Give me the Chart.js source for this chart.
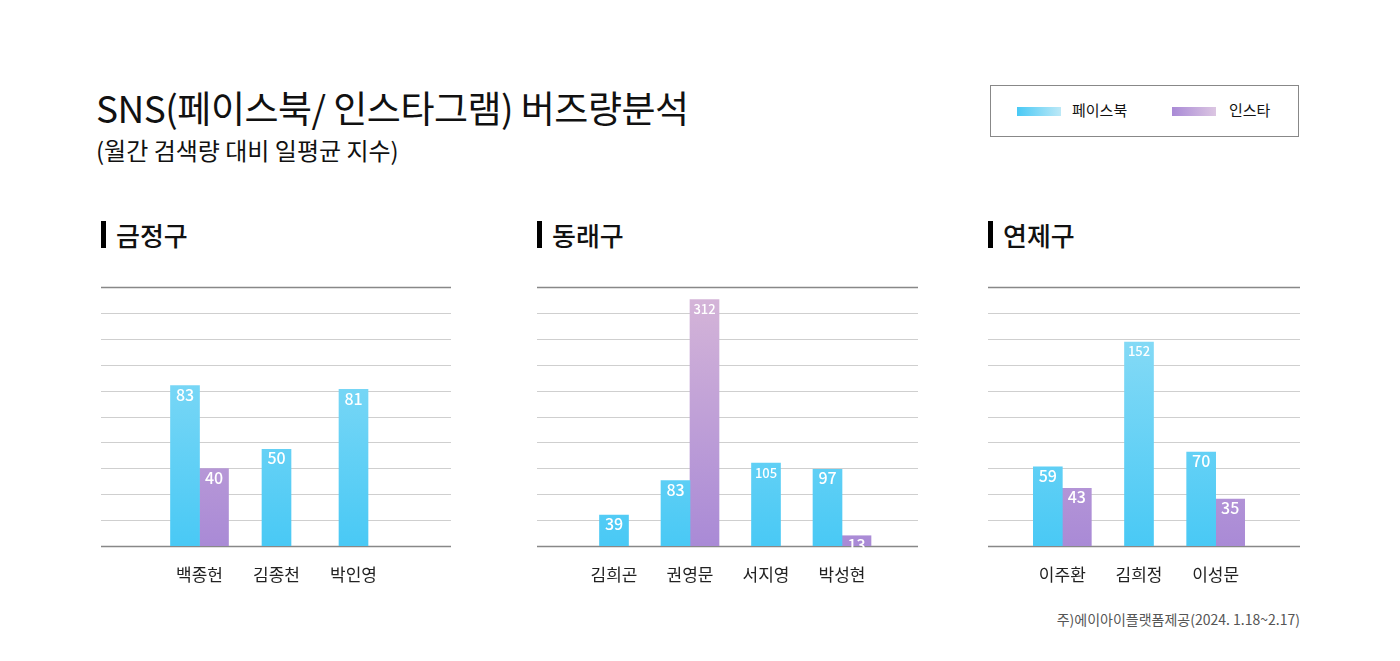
<!DOCTYPE html>
<html><head><meta charset="utf-8">
<script src="https://cdn.jsdelivr.net/npm/chart.js@4/dist/chart.umd.min.js"></script>
<style>
body{margin:0;width:1400px;height:661px;background:#fff;font-family:"Noto Sans CJK KR","Noto Sans",sans-serif;position:relative;overflow:hidden;color:#111}
.abs{position:absolute;white-space:nowrap}
.h{font-size:26px;font-weight:500;display:flex;align-items:center}
.h:before{content:"";display:inline-block;width:5px;height:27px;background:#000;margin-right:10px}
canvas{position:absolute}
</style></head><body>
<div class="abs" style="left:96px;top:80px;font-size:37px;font-weight:400;letter-spacing:-0.5px">SNS(페이스북/ 인스타그램) 버즈량분석</div>
<div class="abs" style="left:96px;top:132px;font-size:24px">(월간 검색량 대비 일평균 지수)</div>
<div class="abs" style="left:990px;top:85px;width:309px;height:52px;border:1px solid #888;box-sizing:border-box"></div>
<div class="abs" style="left:1017px;top:107px;width:44px;height:9px;background:linear-gradient(90deg,#49c9f5,#bde9f7)"></div>
<div class="abs" style="left:1072px;top:99px;font-size:15px">페이스북</div>
<div class="abs" style="left:1172px;top:107px;width:44px;height:9px;background:linear-gradient(90deg,#a98ad6,#dcc6e2)"></div>
<div class="abs" style="left:1229px;top:99px;font-size:15px">인스타</div>
<div class="abs h" style="left:101px;top:216px">금정구</div>
<div class="abs h" style="left:537px;top:216px">동래구</div>
<div class="abs h" style="left:988px;top:216px">연제구</div>
<div class="abs" style="right:100px;top:609px;font-size:14px;color:#555">주)에이아이플랫폼제공(2024. 1.18~2.17)</div>
<canvas id="c1" style="left:101px;top:282px" width="350" height="320"></canvas>
<canvas id="c2" style="left:537px;top:282px" width="381" height="320"></canvas>
<canvas id="c3" style="left:988px;top:282px" width="312" height="320"></canvas>
<script>
const names1=['백종헌','김종천','박인영'];
const fb1=[83,50,81];
const ig1=[40,null,null];
const names2=['김희곤','권영문','서지영','박성현'];
const fb2=[39,83,105,97];
const ig2=[null,312,null,13];
const names3=['이주환','김희정','이성문'];
const fb3=[59,152,70];
const ig3=[43,null,35];

function grad(ctx,area,c1,c2){
  if(!area)return c1;
  const g=ctx.createLinearGradient(0,area.bottom,0,area.top);
  g.addColorStop(0,c1);g.addColorStop(1,c2);return g;
}
const deco={id:'deco',
  beforeDatasetsDraw(ch){
    const c=ch.ctx,y=ch.scales.y,M=ch.options.scales.y.max,W=ch.width;
    c.save();
    for(let i=0;i<=10;i++){
      const py=Math.round(y.getPixelForValue(M*i/10))+0.5;
      c.strokeStyle=(i==0||i==10)?'#888':'#cfcfcf';
      c.lineWidth=(i==0||i==10)?1.5:1;
      c.beginPath();c.moveTo(0,py);c.lineTo(W,py);c.stroke();
    }
    c.restore();
  },
  afterDatasetsDraw(ch){
    const c=ch.ctx;c.save();
    c.textAlign='center';c.textBaseline='top';c.fillStyle='#fff';
    ch.data.datasets.forEach((ds,di)=>{
      ch.getDatasetMeta(di).data.forEach((el,i)=>{
        const v=ds.data[i];if(v==null)return;
        c.font=(v>=100?'500 13px':'500 16px')+' "Noto Sans CJK KR"';
        c.fillText(String(v),el.x,el.y+(v>=100?3:1));
      });
    });
    c.fillStyle='#222';c.font='17px "Noto Sans CJK KR"';
    const x=ch.scales.x;
    ch.data.labels.forEach((l,i)=>c.fillText(l,x.getPixelForValue(i),ch.chartArea.bottom+20));
    c.restore();
  }};
function make(id,labels,fb,ig,max,pl,pr){
  new Chart(document.getElementById(id),{type:'bar',
    data:{labels,datasets:[
      {data:fb,backgroundColor:c=>grad(c.chart.ctx,c.chart.chartArea,'#49c9f5','#93def6'),skipNull:true},
      {data:ig,backgroundColor:c=>grad(c.chart.ctx,c.chart.chartArea,'#a98ad6','#d6b6d8'),skipNull:true}]},
    options:{responsive:false,animation:false,
      layout:{padding:{top:5,bottom:56,left:pl,right:pr}},
      plugins:{legend:{display:false},tooltip:{enabled:false}},
      datasets:{bar:{categoryPercentage:0.78,barPercentage:0.95,barThickness:29}},
      scales:{x:{display:false},y:{display:false,min:0,max}}},
    plugins:[deco]});
}
make('c1',names1,fb1,ig1,134,60,59);
make('c2',names2,fb2,ig2,328,39,38);
make('c3',names3,fb3,ig3,193,36,46);
</script>
</body></html>
